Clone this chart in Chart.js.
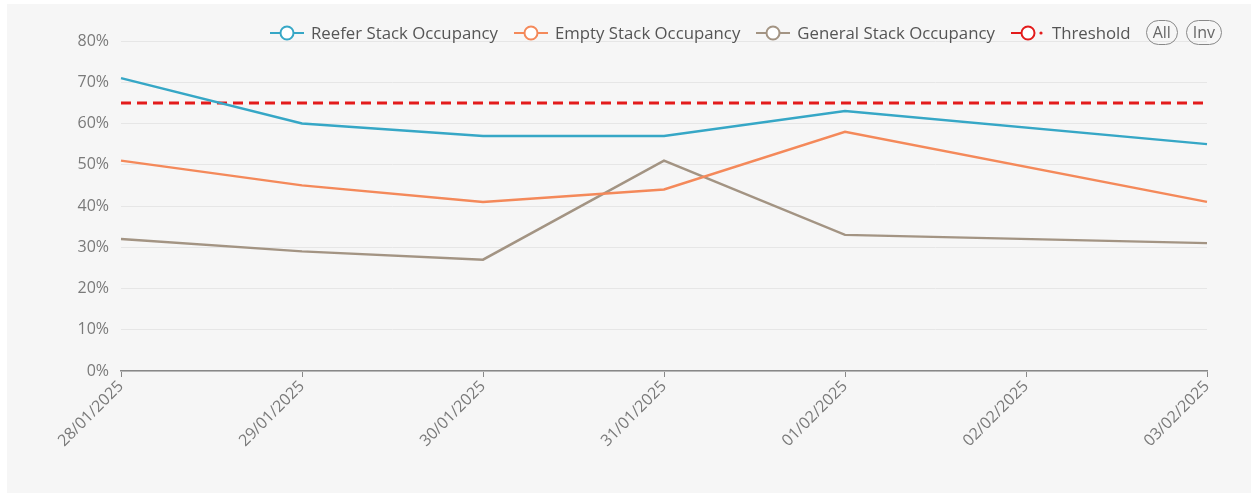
<!DOCTYPE html>
<html>
<head>
<meta charset="utf-8">
<script src="https://cdn.jsdelivr.net/npm/chart.js@4"></script>
<style>
    body { margin: 0; background: #ffffff; font-family: "Open Sans", sans-serif; }
    .panel { position: absolute; left: 7px; top: 4px; width: 1244px; height: 489px; background: #f6f6f6; }
    #wrap { position: absolute; left: 0; top: 0; width: 1251px; height: 497px; }
    .legend { position: absolute; top: 20px; left: 269px; display: flex; align-items: center; font-size: 16.8px; color: #555; white-space: nowrap; }
    .legend .item { display: flex; align-items: center; margin-right: 15px; }
    .legend svg { margin-right: 6px; }
    .legend .pill { border: 1.5px solid #888; border-radius: 13px; padding: 0 6px; height: 23px; line-height: 23px; font-size: 16px; color: #666; margin-right: 8px; }
</style>
</head>
<body>
<div class="panel"></div>
<div id="wrap"><canvas id="graph-stack"></canvas></div>
<div class="legend" id="legend"></div>

<script>
const dates = ["28/01/2025", "29/01/2025", "30/01/2025", "31/01/2025", "01/02/2025", "02/02/2025", "03/02/2025"];
const reefer = [71, 60, 57, 57, 63, null, 55];
const empty = [51, 45, 41, 44, 58, null, 41];
const general = [32, 29, 27, 51, 33, null, 31];
const threshold = [65, 65, 65, 65, 65, 65, 65];
const yTicks = [0, 10, 20, 30, 40, 50, 60, 70, 80];

const series = [
    { label: "Reefer Stack Occupancy", data: reefer, color: "#36a7c6" },
    { label: "Empty Stack Occupancy", data: empty, color: "#f4895a" },
    { label: "General Stack Occupancy", data: general, color: "#a39483" },
    { label: "Threshold", data: threshold, color: "#e31b1b", dashed: true }
];

// legend (html)
const legend = document.getElementById("legend");
series.forEach(s => {
    const item = document.createElement("div");
    item.className = "item";
    const tail = s.dashed
        ? `<circle cx="31" cy="10" r="1.6" fill="${s.color}"/>`
        : `<line x1="25" y1="10" x2="35" y2="10" stroke="${s.color}" stroke-width="2"/>`;
    item.innerHTML = `<svg width="36" height="20"><line x1="1" y1="10" x2="11" y2="10" stroke="${s.color}" stroke-width="2"/>
        <circle cx="18" cy="10" r="6.5" fill="#fff" stroke="${s.color}" stroke-width="2"/>${tail}</svg><span>${s.label}</span>`;
    legend.appendChild(item);
});
["All", "Inv"].forEach(t => {
    const p = document.createElement("span");
    p.className = "pill";
    p.textContent = t;
    legend.appendChild(p);
});

const data = {
    labels: dates,
    datasets: series.map(s => ({
        label: s.label,
        data: s.data,
        borderColor: s.color,
        backgroundColor: s.color,
        borderWidth: s.dashed ? 3 : 2.5,
        borderDash: s.dashed ? [10, 6] : [],
        pointRadius: 0,
        tension: 0,
        spanGaps: true
    }))
};

const graph = new Chart(
    document.getElementById("graph-stack"),
    {
        type: "line",
        data: data,
        options: {
            responsive: true,
            maintainAspectRatio: false,
            animation: false,
            layout: { padding: { top: 41, right: 44, bottom: 26, left: 0 } },
            plugins: {
                legend: { display: false },
                tooltip: { enabled: false }
            },
            scales: {
                x: {
                    offset: false,
                    grid: { drawOnChartArea: false, drawTicks: true, tickLength: 6, color: "#888" },
                    border: { color: "#888", width: 1.5 },
                    ticks: {
                        color: "#7a7a7a",
                        font: { family: "Open Sans", size: 16 },
                        maxRotation: 45,
                        minRotation: 45,
                        padding: 0,
                        autoSkip: false
                    },
                    afterFit: scale => { scale.height = 100; }
                },
                y: {
                    min: 0,
                    max: 80,
                    afterBuildTicks: scale => { scale.ticks = yTicks.map(v => ({ value: v })); },
                    grid: { color: "#e6e6e6", drawTicks: false },
                    border: { display: false },
                    ticks: {
                        color: "#7a7a7a",
                        font: { family: "Open Sans", size: 16 },
                        padding: 12,
                        callback: v => v + "%"
                    },
                    afterFit: scale => { scale.width = 121; }
                }
            }
        }
    }
);
</script>
</body>
</html>
